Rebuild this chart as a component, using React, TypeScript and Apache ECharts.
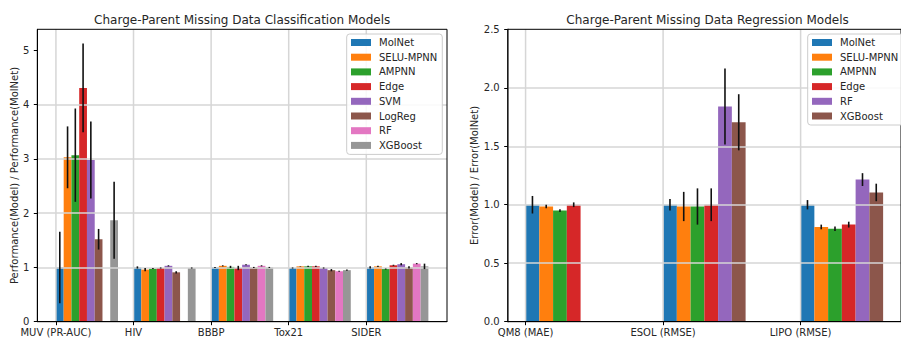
import React, { useEffect, useRef } from "react";
import * as echarts from "echarts";

const FONT = "'DejaVu Sans', sans-serif";

// ---------- Classification chart data ----------
const clsTitle = "Charge-Parent Missing Data Classification Models";
const clsYName = "Performance(Model) / Performance(MolNet)";
const clsCategories = ["MUV (PR-AUC)", "HIV", "BBBP", "Tox21", "SIDER"];
const clsModels = ["MolNet", "SELU-MPNN", "AMPNN", "Edge", "SVM", "LogReg", "RF", "XGBoost"];
const clsColors = ["#1f77b4", "#ff7f0e", "#2ca02c", "#d62728", "#9467bd", "#8c564b", "#e377c2", "#969696"];
const clsYTicks = [0, 1, 2, 3, 4, 5];

const clsMolNet = [1.0, 1.0, 1.0, 0.99, 1.0];
const clsMolNetErr = [0.66, 0.02, 0.01, 0.01, 0.02];
const clsSelu = [3.03, 0.96, 1.03, 1.02, 1.02];
const clsSeluErr = [0.57, 0.03, 0.01, 0.005, 0.01];
const clsAmpnn = [3.07, 0.98, 1.01, 1.02, 0.97];
const clsAmpnnErr = [0.86, 0.01, 0.02, 0.01, 0.01];
const clsEdge = [4.31, 0.99, 0.99, 1.02, 1.04];
const clsEdgeErr = [0.82, 0.01, 0.04, 0.01, 0.01];
const clsSvm = [2.98, 1.03, 1.05, 0.99, 1.06];
const clsSvmErr = [0.71, 0.01, 0.01, 0.01, 0.02];
const clsLogReg = [1.52, 0.91, 1.0, 0.95, 1.0];
const clsLogRegErr = [0.19, 0.02, 0.01, 0.02, 0.02];
const clsRf = [null, null, 1.03, 0.93, 1.07];
const clsRfErr = [0, 0, 0.01, 0.01, 0.01];
const clsXgb = [1.87, 0.99, 1.0, 0.95, 1.02];
const clsXgbErr = [0.71, 0.01, 0.01, 0.01, 0.05];

const clsValues = [clsMolNet, clsSelu, clsAmpnn, clsEdge, clsSvm, clsLogReg, clsRf, clsXgb];
const clsErrors = [clsMolNetErr, clsSeluErr, clsAmpnnErr, clsEdgeErr, clsSvmErr, clsLogRegErr, clsRfErr, clsXgbErr];

// ---------- Regression chart data ----------
const regTitle = "Charge-Parent Missing Data Regression Models";
const regYName = "Error(Model) / Error(MolNet)";
const regCategories = ["QM8 (MAE)", "ESOL (RMSE)", "LIPO (RMSE)"];
const regModels = ["MolNet", "SELU-MPNN", "AMPNN", "Edge", "RF", "XGBoost"];
const regColors = ["#1f77b4", "#ff7f0e", "#2ca02c", "#d62728", "#9467bd", "#8c564b"];
const regYTicks = [0, 0.5, 1.0, 1.5, 2.0, 2.5];

const regMolNet = [1.0, 1.0, 1.0];
const regMolNetErr = [0.075, 0.05, 0.04];
const regSelu = [0.985, 0.985, 0.81];
const regSeluErr = [0.015, 0.125, 0.02];
const regAmpnn = [0.95, 0.985, 0.795];
const regAmpnnErr = [0.012, 0.155, 0.02];
const regEdge = [1.0, 1.0, 0.83];
const regEdgeErr = [0.02, 0.14, 0.025];
const regRf = [null, 1.84, 1.215];
const regRfErr = [0, 0.325, 0.055];
const regXgb = [null, 1.705, 1.105];
const regXgbErr = [0, 0.24, 0.075];

const regValues = [regMolNet, regSelu, regAmpnn, regEdge, regRf, regXgb];
const regErrors = [regMolNetErr, regSeluErr, regAmpnnErr, regEdgeErr, regRfErr, regXgbErr];

// ---------- layout ----------
const BAR_W = 0.1;
const GRID_COLOR = "#d6d6d6";
const TEXT_COLOR = "#262626";

const axisText = { fontSize: 10, fontFamily: FONT, color: TEXT_COLOR };

function makeXAxis(gridIndex: number, cats: string[], min: number, max: number) {
  const vals = cats.map((_, i) => i);
  return {
    type: "value",
    gridIndex,
    min,
    max,
    z: 2,
    axisLine: { show: true, onZero: false, lineStyle: { color: "#000", width: 1 } },
    axisTick: { show: true, customValues: vals, length: 3.5, lineStyle: { color: "#000", width: 1 } },
    axisLabel: {
      show: true,
      customValues: vals,
      formatter: (v: number) => cats[Math.round(v)] ?? "",
      margin: 6,
      ...axisText,
    },
    splitLine: { show: false },
  };
}

function makeYAxis(
  gridIndex: number,
  min: number,
  max: number,
  interval: number,
  ticks: number[],
  name: string,
  nameGap: number,
  decimals: number,
  lineColor: string,
  lineWidth: number
) {
  return {
    type: "value",
    gridIndex,
    min,
    max,
    interval,
    z: 2,
    name,
    nameLocation: "middle",
    nameGap,
    nameTextStyle: { fontSize: 10, fontFamily: FONT, color: TEXT_COLOR },
    axisLine: { show: true, onZero: false, lineStyle: { color: lineColor, width: lineWidth } },
    axisTick: { show: true, customValues: ticks, length: 3.5, lineStyle: { color: "#000", width: 1 } },
    axisLabel: {
      show: true,
      customValues: ticks,
      formatter: (v: number) => v.toFixed(decimals),
      margin: 8,
      ...axisText,
    },
    splitLine: {
      show: true,
      showMinLine: false,
      showMaxLine: false,
      lineStyle: { color: GRID_COLOR, width: 1.5 },
    },
  };
}

function barSeries(gridIndex: number, k: number, name: string, color: string, values: (number | null)[]) {
  const data: number[][] = [];
  values.forEach((v, i) => {
    if (v != null) data.push([i, v]);
  });
  return {
    type: "custom",
    name,
    xAxisIndex: gridIndex,
    yAxisIndex: gridIndex,
    z: 1,
    silent: true,
    itemStyle: { color },
    encode: { x: 0, y: 1 },
    data,
    renderItem: (params: any, api: any) => {
      const i = api.value(0);
      const v = api.value(1);
      const p0 = api.coord([i + k * BAR_W, v]);
      const p1 = api.coord([i + (k + 1) * BAR_W, 0]);
      return {
        type: "rect",
        shape: { x: p0[0], y: p0[1], width: p1[0] - p0[0], height: p1[1] - p0[1] },
        style: { fill: color },
      };
    },
  };
}

function errorSeries(gridIndex: number, values: (number | null)[][], errors: number[][]) {
  const data: number[][] = [];
  values.forEach((vals, k) => {
    vals.forEach((v, i) => {
      if (v != null) {
        const e = errors[k][i];
        data.push([i + (k + 0.5) * BAR_W, v - e, v + e]);
      }
    });
  });
  return {
    type: "custom",
    xAxisIndex: gridIndex,
    yAxisIndex: gridIndex,
    z: 3,
    silent: true,
    encode: { x: 0, y: [1, 2] },
    data,
    renderItem: (params: any, api: any) => {
      const x = api.value(0);
      const a = api.coord([x, api.value(1)]);
      const b = api.coord([x, api.value(2)]);
      return {
        type: "line",
        shape: { x1: a[0], y1: a[1], x2: b[0], y2: b[1] },
        style: { stroke: "#111", lineWidth: 1.6 },
      };
    },
  };
}

function xGridSeries(gridIndex: number, cats: string[]) {
  return {
    type: "custom",
    xAxisIndex: gridIndex,
    yAxisIndex: gridIndex,
    z: 2,
    silent: true,
    encode: { x: 0, y: 1 },
    data: cats.map((_, i) => [i, 0]),
    renderItem: (params: any, api: any) => {
      const p = api.coord([api.value(0), 0]);
      const cs = params.coordSys;
      return {
        type: "line",
        shape: { x1: p[0], y1: cs.y, x2: p[0], y2: cs.y + cs.height },
        style: { stroke: GRID_COLOR, lineWidth: 1.5 },
      };
    },
  };
}

function makeLegend(left: number, models: string[], colors: string[]) {
  return {
    show: true,
    orient: "vertical",
    left,
    top: 34,
    icon: "rect",
    itemWidth: 20,
    itemHeight: 7,
    itemGap: 2.7,
    padding: [2.5, 5, 3, 4.3],
    backgroundColor: "rgba(255,255,255,0.85)",
    borderColor: "#cccccc",
    borderWidth: 1,
    borderRadius: 3,
    selectedMode: false,
    textStyle: { fontSize: 10, fontFamily: FONT, color: TEXT_COLOR, lineHeight: 12, padding: [0, 0, 0, 3] },
    data: models.map((n, i) => ({ name: n, itemStyle: { color: colors[i] } })),
  };
}

export default function App() {
  const ref = useRef<HTMLDivElement | null>(null);

  useEffect(() => {
    if (!ref.current) return;
    const chart = echarts.init(ref.current, null, { renderer: "svg" });

    const clsGrid = { left: 37.3, top: 29.3, width: 409.7, height: 292.4 };
    const regGrid = { left: 507.7, top: 29.3, width: 399.7, height: 292.4 };

    const option: any = {
      animation: false,
      backgroundColor: "#ffffff",
      title: [
        {
          text: clsTitle,
          left: clsGrid.left + clsGrid.width / 2,
          textAlign: "center",
          top: 13.5,
          padding: 0,
          textStyle: { fontSize: 12, fontWeight: "normal", fontFamily: FONT, color: TEXT_COLOR },
        },
        {
          text: regTitle,
          left: regGrid.left + regGrid.width / 2,
          textAlign: "center",
          top: 13.5,
          padding: 0,
          textStyle: { fontSize: 12, fontWeight: "normal", fontFamily: FONT, color: TEXT_COLOR },
        },
      ],
      legend: [makeLegend(346.7, clsModels, clsColors), makeLegend(807.7, regModels, regColors)],
      grid: [
        { ...clsGrid, show: true, z: 4, borderColor: "#000", borderWidth: 1, backgroundColor: "transparent" },
        { ...regGrid, show: true, z: 4, borderColor: "#000", borderWidth: 1, backgroundColor: "transparent" },
      ],
      xAxis: [makeXAxis(0, clsCategories, -0.24, 5.04), makeXAxis(1, regCategories, -0.13, 2.73)],
      yAxis: [
        makeYAxis(0, 0, 5.39, 1, clsYTicks, clsYName, 16, 0, "#000", 1),
        makeYAxis(1, 0, 2.5, 0.5, regYTicks, regYName, 26, 1, "#6e6e6e", 1.6),
      ],
      series: [
        ...clsModels.map((m, k) => barSeries(0, k, m, clsColors[k], clsValues[k])),
        ...regModels.map((m, k) => barSeries(1, k, m, regColors[k], regValues[k])),
        xGridSeries(0, clsCategories),
        xGridSeries(1, regCategories),
        errorSeries(0, clsValues, clsErrors),
        errorSeries(1, regValues, regErrors),
      ],
    };

    chart.setOption(option);
    return () => {
      chart.dispose();
    };
  }, []);

  return (
    <div
      ref={ref}
      style={{ position: "fixed", left: 0, top: 0, width: 901, height: 338, overflow: "hidden" }}
    />
  );
}
